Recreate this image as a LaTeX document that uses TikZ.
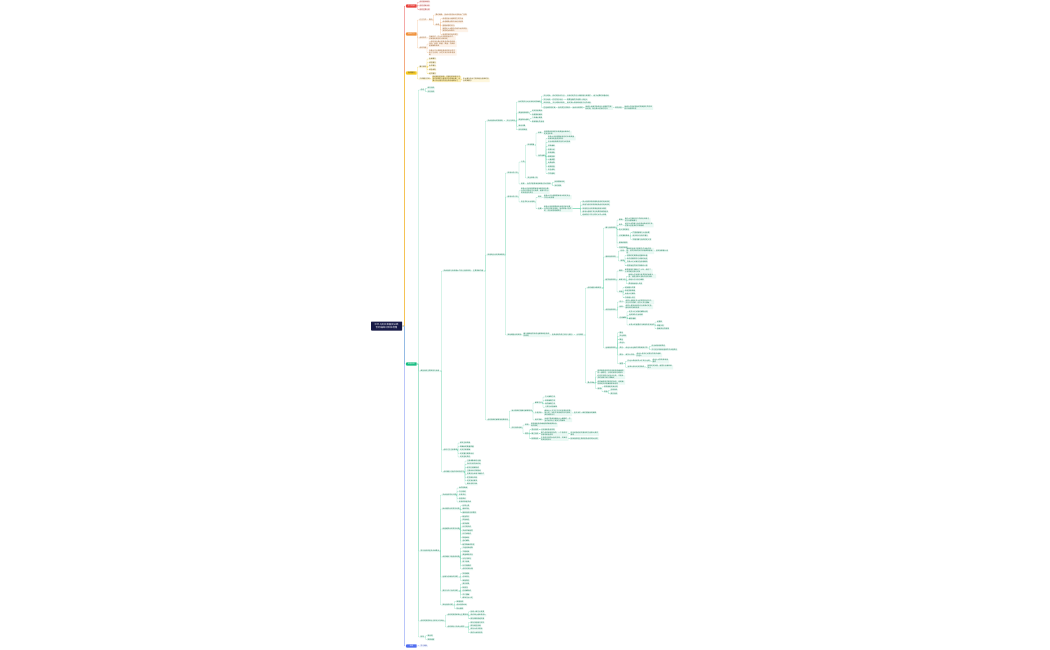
\documentclass[tikz,border=0pt]{standalone}
\usepackage{fontspec}
\setmainfont{Noto Sans CJK SC}
\XeTeXlinebreaklocale "zh"
\XeTeXlinebreakskip=0pt plus 0.1pt
\usetikzlibrary{calc}
\definecolor{cR}{RGB}{232,68,62}
\definecolor{cO}{RGB}{240,146,60}
\definecolor{cY}{RGB}{245,200,30}
\definecolor{cG}{RGB}{24,190,130}
\definecolor{cB}{RGB}{80,110,240}
\definecolor{cN}{RGB}{22,26,70}
\tikzset{
  lf/.style={anchor=west, inner sep=0.4pt, font=\fontsize{1.7}{2.0}\selectfont, rounded corners=0.3pt, fill=cG!9, text=cG!60!black},
  tw/.style={text width=#1pt},
  ed/.style={draw=cG!50, line width=0.3pt, rounded corners=0.5pt},
  mn0/.style={anchor=west, inner sep=0.3pt, minimum width=10.5pt, minimum height=3.2pt, font=\fontsize{1.7}{2.0}\selectfont, text=white, rounded corners=0.5pt},
  rootn/.style={fill=cN, text=white, font=\fontsize{2.4}{3.0}\selectfont, align=center, inner sep=0.8pt, minimum width=31pt, minimum height=9pt, rounded corners=0.5pt},
  sp/.style={line width=0.45pt}
}
\newcommand\mynd[5][]{\node[lf,#1] (#2) at (#3,#4) {#5};}
\newcommand\mylk[3][]{\draw[ed,#1] let \p1=(#2.east),\p2=(#3.west) in (\p1) -- ({\x2-1.6pt},\y1) |- (\p2);}
\newcommand\mykids[2]{\foreach \q in {#2}{\mylk{#1}{\q}}}
\begin{document}
\begin{tikzpicture}[x=1pt,y=-1pt]
\fill[white] (0,0) rectangle (1050,650);
\useasboundingbox (0,0) rectangle (1050,650);
\node[rootn] (root) at (386.5,326) {中华人民共和国民法典\\合同编知识体系梳理};

% ---------------- red
\begin{scope}[lf/.append style={fill=cR!10,text=cR!70!black},ed/.append style={draw=cR!55}]
\node[mn0,fill=cR] (mR) at (406,6) {学习导读};
\mynd{r1}{419}{2.2}{合同基本概念}
\mynd{r2}{419}{5.8}{合同法律关系}
\mynd{r3}{419}{9.4}{合同主要分类}
\mylk[draw=cR!70,sp]{root}{mR}
\mykids{mR}{r1,r2,r3}
\end{scope}

% ---------------- orange
\begin{scope}[lf/.append style={fill=cO!12,text=cO!60!black},ed/.append style={draw=cO!55}]
\node[mn0,fill=cO] (mO) at (406,34) {合同订立};
\mynd{o1}{419}{20}{订立方式}
\mynd{o1a}{428.5}{20}{要约}
\mynd{o1a1}{435}{15}{要约邀请}
\mynd{o1a1x}{444}{15}{拍卖公告招标公告商业广告等}
\mynd{o1a2}{435}{25}{承诺}
\mynd{o1a2a}{442}{18.8}{承诺应当以通知的方式作出}
\mynd{o1a2b}{442}{22.2}{承诺期限自要约到达时起算}
\mynd{o1a2c}{442}{25.6}{逾期承诺的效力}
\mynd[tw=25]{o1a2d}{442}{30}{受要约人对要约内容作出实质性变更的为新要约}
\mynd{o1a2e}{442}{34.4}{承诺生效时合同成立}
\mynd{o2}{419}{38}{合同形式}
\mynd[tw=26]{o2a}{428.5}{38}{书面形式、口头形式和其他形式，法律另有规定的从其规定}
\mynd{o3}{419}{48}{合同内容}
\mynd[tw=27]{o3a}{428.5}{44}{一般包括当事人的姓名或者名称和住所、标的、数量、质量、价款或者报酬等条款}
\mynd[tw=27]{o3b}{428.5}{52.5}{当事人可以参照各类合同的示范文本订立合同，示范文本仅供参考使用}
\mylk[draw=cO!75,sp]{root}{mO}
\mykids{mO}{o1,o2,o3}
\mylk{o1}{o1a}
\mykids{o1a}{o1a1,o1a2}
\mylk{o1a1}{o1a1x}
\mykids{o1a2}{o1a2a,o1a2b,o1a2c,o1a2d,o1a2e}
\mylk{o2}{o2a}
\mykids{o3}{o3a,o3b}
\end{scope}

% ---------------- yellow
\begin{scope}[lf/.append style={fill=cY!15,text=cY!35!black},ed/.append style={draw=cY!70}]
\node[mn0,fill=cY,text=black!75] (mY) at (406,73) {合同履行};
\mynd{y1}{419}{67}{履行原则}
\mynd{y1a}{428.5}{59}{全面履行}
\mynd{y1b}{428.5}{62.6}{诚信履行}
\mynd{y1c}{428.5}{66.2}{协作履行}
\mynd{y1d}{428.5}{69.8}{绿色原则}
\mynd{y1e}{428.5}{73.4}{经济履行}
\mynd{y2}{419}{79}{三类履行抗辩}
\mynd[tw=28,fill=cY!35]{y2a}{432}{79}{同时履行抗辩权、先履行抗辩权与不安抗辩权的行使条件及法律后果，当事人中止履行的应当及时通知对方}
\mynd[tw=26]{y2b}{462.5}{80}{中止履行后对方提供适当担保的应当恢复履行}
\mylk[draw=cY!85,sp]{root}{mY}
\mykids{mY}{y1,y2}
\mykids{y1}{y1a,y1b,y1c,y1d,y1e}
\mylk{y2}{y2a}
\mylk{y2a}{y2b}
\end{scope}

% ---------------- green
\node[mn0,fill=cG] (mG) at (406,364) {典型合同};
\mylk[draw=cG!70,sp]{root}{mG}
\mynd{g1}{420}{90}{总述}
\mynd{g1a}{427}{88.2}{有名合同}
\mynd{g1b}{427}{91.8}{无名合同}
\mynd{g2}{420}{371}{典型合同主要规则与适用}
\mynd{g3}{420}{551}{常见合同类型及法律要点}
\mynd{g4}{420}{621}{合同的变更转让与权利义务终止}
\mynd{g5}{420}{637}{附则}
\mykids{mG}{g1,g2,g3,g4,g5}
\mykids{g1}{g1a,g1b}

% g2 branch
\mynd{ga}{443}{271}{买卖合同与供用电水气热力合同规则}
\mynd{ga1}{472.5}{271}{主要条款内容}
\mylk{ga}{ga1}
% A
\mynd{A}{487}{121}{买卖合同标的物规则}
\mynd{A1}{506}{121}{交付与风险}
\mynd{A1a}{518}{102}{标的物交付地点及时间的确定}
\mynd{Aa1}{543}{96}{交付时间}
\mynd{Aa1b}{552}{96}{依约定时间交付}
\mynd{Aa1c}{566.5}{96}{没有约定的可以随时履行或请求}
\mynd{Aa1d}{593}{96}{给予必要的准备时间}
\mynd{Aa2}{543}{99.6}{交付地点}
\mynd{Aa2b}{552}{99.6}{约定交付地点}
\mynd{Aa2c}{566.5}{99.6}{需要运输的交给第一承运人}
\mynd{Aa3}{543}{103.2}{风险负担}
\mynd{Aa3b}{552}{103.2}{交付时转移规则}
\mynd{Aa3c}{566.5}{103.2}{因买受人原因致延迟交付的承担}
\mynd{Aa4}{543}{107.6}{在途标的物买卖}
\mynd{Aa4b}{557.5}{107.6}{合同成立时转移}
\mynd{Aa4c}{572}{107.6}{出卖人知情的}
\mynd[tw=27]{Aa4d}{585}{107.6}{出卖人出卖交由承运人运输的在途标的物，除当事人另有约定外}
\mynd{Aa4e}{614.5}{107.6}{风险负担}
\mynd[tw=28]{Aa4f}{624}{107.6}{出卖人应当承担标的物毁损灭失的风险并负赔偿责任}
\mynd{A1b}{518}{113}{质量检验期限}
\mynd{A1b1}{531.5}{111.3}{约定检验期间}
\mynd{A1b2}{531.5}{114.7}{合理期间通知}
\mynd{A1c}{518}{120}{质量异议通知}
\mynd{A1c1}{531.5}{118.3}{二年最长期限}
\mynd{A1c2}{531.5}{121.7}{质保期优先适用}
\mynd{A1d}{518}{126.2}{孳息归属}
\mynd{A1e}{518}{129.8}{所有权保留}
\mylk{A}{A1}
\mykids{A1}{A1a,A1b,A1c,A1d,A1e}
\mykids{A1a}{Aa1,Aa2,Aa3,Aa4}
\mylk{Aa1}{Aa1b}\mylk{Aa1b}{Aa1c}\mylk{Aa1c}{Aa1d}
\mylk{Aa2}{Aa2b}\mylk{Aa2b}{Aa2c}
\mylk{Aa3}{Aa3b}\mylk{Aa3b}{Aa3c}
\mylk{Aa4}{Aa4b}\mylk{Aa4b}{Aa4c}\mylk{Aa4c}{Aa4d}\mylk{Aa4d}{Aa4e}\mylk{Aa4e}{Aa4f}
\mykids{A1b}{A1b1,A1b2}
\mykids{A1c}{A1c1,A1c2}
% B
\mynd{B}{487}{255}{供用电力合同具体规则}
\mynd{B1}{507}{173}{供电人的义务}
\mynd{B1a}{520.5}{162}{义务}
\mynd{B1a1}{527}{145}{供电质量}
\mynd{B1a1a}{537.5}{133}{标准}
\mynd[tw=27]{B1a1x}{543.5}{133}{按照国家规定的供电质量标准和约定安全供电}
\mynd{B1a1b}{537.5}{156}{违约后果}
\mynd[tw=27]{Bq1}{547.5}{138.2}{供电人未按照国家规定的供电质量标准供电造成损失的}
\mynd{Bq2}{547.5}{142.3}{应当承担赔偿责任并及时检修}
\mynd{Bq3}{547.5}{146.2}{停电通知}
\mynd{Bq4}{547.5}{149.6}{检修计划}
\mynd{Bq5}{547.5}{153}{限电措施}
\mynd{Bq6}{547.5}{156.4}{事故抢修}
\mynd{Bq7}{547.5}{159.8}{计量装置}
\mynd{Bq8}{547.5}{163.2}{电费结算}
\mynd{Bq9}{547.5}{166.6}{用电检查}
\mynd{Bq10}{547.5}{170}{安全用电}
\mynd{Bq11}{547.5}{173.4}{节约用电}
\mynd{B1a2}{527}{178}{安全供电义务}
\mynd{B1b}{520.5}{184}{抢修}
\mynd{B1b1}{526.5}{184}{自然灾害等原因断电应及时抢修}
\mynd{B1b1a}{554}{182.2}{按照国家规定}
\mynd{B1b1b}{554}{185.8}{及时抢修}
\mynd{B2}{507}{197}{用电人的义务}
\mynd[tw=28]{B2a}{520.5}{190.8}{用电人应当按照国家有关规定和当事人的约定及时支付电费，逾期不支付的承担违约责任}
\mynd{B2b}{520.5}{202}{安全节约计划用电}
\mynd{B2b1}{537.5}{197.2}{规定}
\mynd[tw=27]{B2b1x}{543.5}{197.2}{用电人应当按照国家有关规定安全节约计划用电}
\mynd{B2b2}{537.5}{208.8}{后果}
\mynd[tw=28]{B2b2x}{543.5}{208.8}{用电人未按照国家有关规定和当事人的约定安全用电，造成供电人损失的，应当承担赔偿责任}
\mynd{B2c1}{582}{201.7}{供水合同参照供用电合同的有关规定}
\mynd{B2c2}{582}{205.1}{供用气合同参照供用电合同有关规定}
\mynd{B2c3}{582}{208.5}{供用热力合同参照适用有关规定}
\mynd{B2c4}{582}{211.9}{用电人逾期不支付电费的催告程序}
\mynd{B2c5}{582}{215.3}{经催告仍不支付的可以中止供电}
\mylk{B}{B1}\mylk{B}{B2}
\mykids{B1}{B1a,B1b}
\mykids{B1a}{B1a1,B1a2}
\mykids{B1a1}{B1a1a,B1a1b}
\mylk{B1a1a}{B1a1x}
\mykids{B1a1b}{Bq1,Bq2,Bq3,Bq4,Bq5,Bq6,Bq7,Bq8,Bq9,Bq10,Bq11}
\mylk{B1b}{B1b1}
\mykids{B1b1}{B1b1a,B1b1b}
\mykids{B2}{B2a,B2b}
\mykids{B2b}{B2b1,B2b2}
\mylk{B2b1}{B2b1x}\mylk{B2b2}{B2b2x}
\mykids{B2b2x}{B2c1,B2c2,B2c3,B2c4,B2c5}
% B3 chain
\mynd{B3}{507}{335}{其他典型合同规则}
\mynd[tw=26]{B3a}{523}{335}{赠与借款租赁承揽运输等典型合同的规则}
\mynd{B3b}{551.5}{335}{各类合同的成立效力与履行}
\mynd{B3c}{576}{335}{分则规定}
\mylk{B}{B3}\mylk{B3}{B3a}\mylk{B3a}{B3b}\mylk{B3b}{B3c}
% C
\mynd{C}{587}{288}{合同通则关联规则}
\mynd{C1}{605}{228}{赠与合同规则}
\mynd{c1a}{618.5}{220}{撤销}
\mynd[tw=25]{c1ax}{624.5}{220}{赠与人在赠与财产的权利转移之前可以撤销赠与}
\mynd{c1b}{618.5}{225.2}{例外}
\mynd[tw=28]{c1bx}{624.5}{225.2}{经过公证的赠与合同或者具有救灾扶贫等公益性质的不得撤销}
\mynd{c1c}{618.5}{229.6}{附义务的赠与}
\mynd{c1d}{618.5}{236}{法定撤销事由}
\mynd{c1d1}{632}{232.6}{严重侵害赠与人近亲属}
\mynd{c1d2}{632}{236}{有扶养义务而不履行}
\mynd{c1d3}{632}{239.4}{不履行赠与合同约定义务}
\mynd{c1e}{618.5}{243}{撤销权期限}
\mynd{c1f}{618.5}{247.5}{穷困抗辩权}
\mykids{C1}{c1a,c1b,c1c,c1d,c1e,c1f}
\mylk{c1a}{c1ax}\mylk{c1b}{c1bx}
\mykids{c1d}{c1d1,c1d2,c1d3}
\mynd{C2}{605}{257}{借款合同规则}
\mynd{c2a}{620}{251}{利息}
\mynd[tw=27]{c2ax}{626}{251}{借款的利息不得预先在本金中扣除，预先扣除的按实际借款数额返还}
\mynd{c2ay}{655.5}{251}{按实际数额计息}
\mynd{c2b}{620}{261}{期限}
\mynd{c2b1}{626.5}{255.4}{按照约定期限返还借款本金}
\mynd{c2b2}{626.5}{258.8}{未约定期限的可以随时返还}
\mynd{c2b3}{626.5}{262.2}{贷款人可以催告在合理期限}
\mynd{c2b4}{626.5}{265.6}{提前返还的按实际期间计息}
\mykids{C2}{c2a,c2b}
\mylk{c2a}{c2ax}\mylk{c2ax}{c2ay}
\mykids{c2b}{c2b1,c2b2,c2b3,c2b4}
\mynd{C3}{605}{280}{租赁合同规则}
\mynd{c3a}{618.5}{271}{期限}
\mynd[tw=27]{c3ax}{624.5}{271}{租赁期限不得超过二十年，超过二十年的超过部分无效}
\mynd{c3b}{618.5}{280}{维修义务}
\mynd[tw=27]{c3b1}{628}{276.2}{出租人应当履行租赁物的维修义务，但是当事人另有约定的除外}
\mynd{c3b2}{628}{280.3}{承租人可以自行维修}
\mynd{c3b3}{628}{283.7}{费用由出租人负担}
\mynd{c3c}{618.5}{292}{转租}
\mynd{c3c1}{624.5}{287.4}{经出租人同意}
\mynd{c3c2}{624.5}{290.8}{未经同意转租}
\mynd{c3c3}{624.5}{294.2}{出租人可解除}
\mynd{c3c4}{624.5}{297.6}{次承租人代付}
\mykids{C3}{c3a,c3b,c3c}
\mylk{c3a}{c3ax}
\mykids{c3b}{c3b1,c3b2,c3b3}
\mykids{c3c}{c3c1,c3c2,c3c3,c3c4}
\mynd{C4}{605}{310}{承揽合同规则}
\mynd{c4a}{619}{302}{定义}
\mynd[tw=28]{c4ax}{625}{302}{承揽人按照定作人的要求完成工作，交付工作成果，定作人支付报酬}
\mynd{c4b}{619}{307}{材料}
\mynd[tw=27]{c4bx}{625}{307}{承揽人提供材料的应当按照约定选用材料并接受检验}
\mynd{c4c}{619}{318}{任意解除}
\mynd{c4c1}{628.5}{311.8}{定作人可以随时解除合同}
\mynd{c4c2}{628.5}{315.2}{造成损失应当赔偿}
\mynd{c4c3}{628.5}{318.6}{解除通知}
\mynd{c4c4}{628.5}{325}{承揽人的留置权与保管责任及违约}
\mynd{c4c4a}{656.5}{322}{留置权}
\mynd{c4c4b}{656.5}{325.4}{保管义务}
\mynd{c4c4c}{656.5}{328.8}{报酬支付的期限}
\mykids{C4}{c4a,c4b,c4c}
\mylk{c4a}{c4ax}\mylk{c4b}{c4bx}
\mykids{c4c}{c4c1,c4c2,c4c3,c4c4}
\mykids{c4c4}{c4c4a,c4c4b,c4c4c}
\mynd{C5}{605}{348}{运输合同规则}
\mynd{c5a}{619}{332.8}{客运}
\mynd{c5b}{619}{336.2}{货运规则}
\mynd{c5c}{619}{339.6}{联运}
\mynd{c5d}{619}{343}{承运人}
\mynd{c5e}{619}{348}{责任}
\mynd{c5ex}{625}{348}{承运人对运输中货物毁损灭失}
\mynd{c5ex1}{651}{346.3}{应当承担赔偿责任}
\mynd{c5ex2}{651}{349.7}{不可抗力等原因造成的不承担责任}
\mynd{c5f}{619}{355}{提存}
\mynd{c5fx}{625}{355}{收货人不明}
\mynd[tw=25]{c5fy}{636}{355}{承运人依法可以提存货物并通知托运人}
\mynd{c5g}{619}{363.5}{留置}
\mynd{c5g1}{627}{361.2}{托运人或者收货人不支付运费}
\mynd[tw=16]{c5g1x}{652}{361.2}{承运人对货物享有留置权}
\mynd{c5g2}{627}{367.2}{当事人另有约定的除外}
\mynd[tw=25]{c5g2x}{647}{367.2}{按照约定处理，留置应当通知收货人}
\mykids{C5}{c5a,c5b,c5c,c5d,c5e,c5f,c5g}
\mylk{c5e}{c5ex}
\mykids{c5ex}{c5ex1,c5ex2}
\mylk{c5f}{c5fx}\mylk{c5fx}{c5fy}
\mykids{c5g}{c5g1,c5g2}
\mylk{c5g1}{c5g1x}\mylk{c5g2}{c5g2x}
\mykids{C}{C1,C2,C3,C4,C5}
% D
\mynd{D}{587}{383}{要点归纳}
\mynd[tw=27]{d1}{597}{371.5}{各类典型合同均应适用合同编通则的一般规定，分则另有规定的除外}
\mynd[tw=27]{d2}{597}{377}{约定不明的可以协议补充，不能补充的按照交易习惯确定}
\mynd[tw=27]{d3}{597}{382.5}{合同编未明文规定的合同，适用通则规定并参照最相类似合同}
\mynd{d4}{597}{388.5}{适用}
\mynd{d4a}{603.5}{386.8}{参照适用买卖合同}
\mynd{d4b}{603.5}{391.8}{其他}
\mynd{d4b1}{610}{390.2}{互易合同}
\mynd{d4b2}{610}{393.8}{委托合同}
\mykids{D}{d1,d2,d3,d4}
\mykids{d4}{d4a,d4b}
\mykids{d4b}{d4b1,d4b2}
\mykids{B3c}{C,D}
% E
\mynd{E}{487}{420}{合同条款的解释及特殊规则}
\mynd{E1}{511}{411}{争议条款的理解与解释规则}
\mynd{e1a}{534.5}{403}{解释方法}
\mynd{e1a1}{544.5}{397}{文义解释方法}
\mynd{e1a2}{544.5}{400.4}{体系解释方法}
\mynd{e1a3}{544.5}{403.8}{目的解释方法}
\mynd{e1a4}{544.5}{407.2}{习惯与诚信解释}
\mynd{e1b}{534.5}{413}{多语文本}
\mynd[tw=27]{e1bx}{544}{413}{两种以上文字订立并约定具有同等效力的，对各文本使用的词句推定具有相同含义}
\mynd{e1by}{573.5}{413}{各文本不一致的根据目的解释}
\mynd{e1c}{534.5}{420}{格式条款}
\mynd[tw=27]{e1cx}{544}{420}{对格式条款有两种以上解释的，应当作出不利于提供方的解释}
\mynd{E2}{511}{428}{无名合同适用}
\mynd{e2a}{524.5}{425}{参照}
\mynd[tw=26]{e2ax}{530.5}{425}{参照适用合同编通则或最相类似合同的规定}
\mynd{e2b}{524.5}{433.5}{情形}
\mynd{e2b1}{531}{429.6}{混合合同}
\mynd{e2b1x}{540.5}{429.6}{分别适用各自规则}
\mynd{e2b2}{531}{433.6}{联立合同}
\mynd[tw=27]{e2b2x}{540.5}{433.6}{数个合同相互依存的，一个合同无效影响其他合同}
\mynd[tw=28]{e2b2y}{570}{433.6}{应当综合考虑交易目的与当事人真实意思}
\mynd{e2b3}{531}{438.6}{附属合同}
\mynd[tw=27]{e2b3x}{540.5}{438.6}{主合同无效的从合同无效，法律另有规定的除外}
\mynd[tw=28]{e2b3y}{570}{438.6}{担保合同是主债权债务合同的从合同}
\mykids{E}{E1,E2}
\mykids{E1}{e1a,e1b,e1c}
\mykids{e1a}{e1a1,e1a2,e1a3,e1a4}
\mylk{e1b}{e1bx}\mylk{e1bx}{e1by}
\mylk{e1c}{e1cx}
\mykids{E2}{e2a,e2b}
\mylk{e2a}{e2ax}
\mykids{e2b}{e2b1,e2b2,e2b3}
\mylk{e2b1}{e2b1x}
\mylk{e2b2}{e2b2x}\mylk{e2b2x}{e2b2y}
\mylk{e2b3}{e2b3x}\mylk{e2b3x}{e2b3y}
\mykids{ga1}{A,B,E}
% G2b, G2c
\mynd{gb}{443}{450}{合同订立注意事项}
\mynd{gb1}{459.5}{443}{核实主体资格}
\mynd{gb2}{459.5}{446.5}{明确标的数量质量}
\mynd{gb3}{459.5}{450}{约定价款报酬}
\mynd{gb4}{459.5}{453.5}{约定履行期限地点}
\mynd{gb5}{459.5}{457}{约定违约责任}
\mykids{gb}{gb1,gb2,gb3,gb4,gb5}
\mynd{gc}{443}{472}{合同履行过程中的风险防范}
\mynd{gc1}{466.5}{461}{注意收集保存证据}
\mynd{gc2}{466.5}{464.3}{及时行使抗辩权利}
\mynd{gc3}{466.5}{467.6}{依法行使解除权}
\mynd{gc4}{466.5}{470.9}{注意诉讼时效期间}
\mynd{gc5}{466.5}{474.2}{变更应当采用书面形式}
\mynd{gc6}{466.5}{477.5}{防范欺诈风险}
\mynd{gc7}{466.5}{480.8}{约定争议解决}
\mynd{gc8}{466.5}{484.1}{做好合同归档}
\mykids{gc}{gc1,gc2,gc3,gc4,gc5,gc6,gc7,gc8}
\mykids{g2}{ga,gb,gc}

% g3 branch
\mynd{h1}{442}{495}{买卖合同常见问题}
\mynd{h11}{458.5}{488}{标的物瑕疵}
\mynd{h12}{458.5}{491.5}{交付迟延}
\mynd{h13}{458.5}{495}{价款支付}
\mynd{h14}{458.5}{498.5}{检验异议}
\mynd{h15}{458.5}{502}{所有权保留买卖}
\mynd{h2}{442}{509}{民间借贷合同常见问题}
\mynd{h21}{462}{505.8}{利率上限}
\mynd{h22}{462}{509.2}{借款凭证}
\mynd{h23}{462}{512.6}{借款合同无效情形}
\mynd{h3}{442}{529}{房屋租赁合同常见问题}
\mynd{h31}{462}{516.5}{租金支付}
\mynd{h32}{462}{520}{押金返还}
\mynd{h33}{462}{523.5}{装饰装修}
\mynd{h34}{462}{527}{优先购买权}
\mynd{h35}{462}{530.5}{买卖不破租赁}
\mynd{h36}{462}{534}{优先承租权}
\mynd{h37}{462}{537.5}{转租纠纷}
\mynd{h38}{462}{541}{违约解除}
\mynd{h39}{462}{544.5}{租赁物维修责任}
\mynd{h4}{442}{557}{承揽建设工程合同问题}
\mynd{h41}{462}{548}{工程价款结算}
\mynd{h42}{462}{551.5}{工期延误}
\mynd{h43}{462}{555}{质量缺陷责任}
\mynd{h44}{462}{558.5}{分包与转包}
\mynd{h45}{462}{562}{竣工验收}
\mynd{h46}{462}{565.5}{优先受偿权}
\mynd{h47}{462}{569}{合同无效处理}
\mynd{h5}{442}{577}{运输与仓储合同问题}
\mynd{h51}{462}{573.5}{货物毁损}
\mynd{h52}{462}{577}{仓单效力}
\mynd{h53}{462}{580.5}{保管责任}
\mynd{h6}{442}{591}{委托与中介合同问题}
\mynd{h61}{462}{584}{委托权限}
\mynd{h62}{462}{587.5}{转委托}
\mynd{h63}{462}{591}{任意解除权}
\mynd{h64}{462}{594.5}{中介报酬}
\mynd{h65}{462}{598}{跳单行为认定}
\mynd{h7}{442}{605}{其他合同问题}
\mynd{h71}{456}{601.5}{保理合同}
\mynd{h72}{456}{605}{合伙合同纠纷}
\mynd{h73}{456}{608.5}{物业服务}
\mykids{g3}{h1,h2,h3,h4,h5,h6,h7}
\mykids{h1}{h11,h12,h13,h14,h15}
\mykids{h2}{h21,h22,h23}
\mykids{h3}{h31,h32,h33,h34,h35,h36,h37,h38,h39}
\mykids{h4}{h41,h42,h43,h44,h45,h46,h47}
\mykids{h5}{h51,h52,h53}
\mykids{h6}{h61,h62,h63,h64,h65}
\mykids{h7}{h71,h72,h73}

% g4, g5
\mynd{k1}{447}{615}{合同的变更和转让主要规则}
\mynd{k11}{470}{611.8}{协商一致可以变更}
\mynd{k12}{470}{615.2}{债权转让通知债务人}
\mynd{k13}{470}{618.6}{债务转移需经同意}
\mynd{k2}{447}{627}{合同权利义务终止情形}
\mynd{k21}{470}{622.5}{债务已经履行完毕}
\mynd{k22}{470}{625.9}{债务相互抵销}
\mynd{k23}{470}{629.3}{债务人依法提存}
\mynd{k24}{470}{632.7}{债权人免除债务}
\mykids{g4}{k1,k2}
\mykids{k1}{k11,k12,k13}
\mykids{k2}{k21,k22,k23,k24}
\mynd{m1}{427}{635.8}{准合同}
\mynd{m2}{427}{639.4}{参照适用}
\mykids{g5}{m1,m2}

% ---------------- blue
\begin{scope}[lf/.append style={fill=cB!10,text=cB!70!black},ed/.append style={draw=cB!55}]
\node[mn0,fill=cB] (mB) at (406,646) {结语};
\mynd{b1}{420}{646}{学习建议}
\mylk[draw=cB!60,sp]{root}{mB}
\mylk{mB}{b1}
\end{scope}
\end{tikzpicture}
\end{document}
